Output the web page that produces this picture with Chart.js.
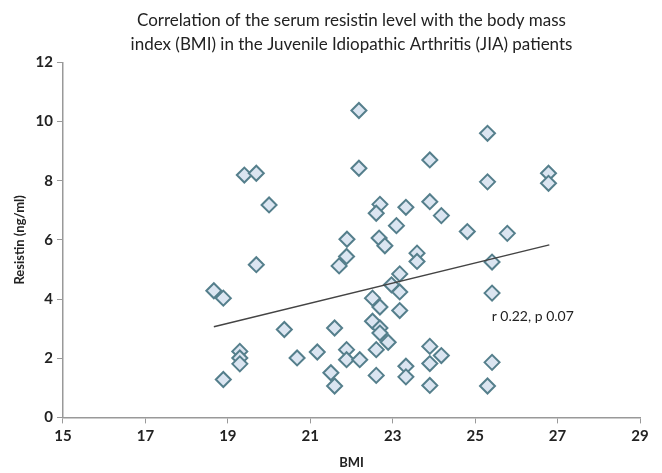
<!DOCTYPE html>
<html>
<head>
<meta charset="utf-8">
<script src="https://cdn.jsdelivr.net/npm/chart.js@4.4.0/dist/chart.umd.min.js"></script>
<style>
  body { margin: 0; background: #fff; }
  #wrap { width: 662px; height: 473px; }
</style>
</head>
<body>
<div id="wrap"><canvas id="chart-bmi-resistin"></canvas></div>
<script>
// values
var bmi = [18.66, 18.89, 18.89, 19.29, 19.29, 19.29, 19.40, 19.69, 19.69, 20.0,
           20.37, 20.68, 21.17, 21.59, 21.50, 21.59, 21.70, 21.88, 21.89, 21.88,
           21.88, 22.2, 22.18, 22.18, 22.69, 22.60, 22.67, 22.81, 23.09, 23.32,
           23.90, 23.90, 24.18, 24.81, 25.30, 25.30, 25.78, 26.78, 26.78, 23.59,
           23.59, 25.41, 23.17, 22.97, 23.17, 22.51, 22.69, 23.17, 25.41, 22.51,
           22.69, 22.69, 22.89, 22.60, 23.90, 24.18, 23.90, 23.32, 23.32, 25.41,
           22.60, 23.90, 25.30];
var resistin = [4.28, 4.03, 1.28, 2.23, 2.01, 1.81, 8.19, 8.25, 5.16, 7.18,
                2.97, 2.01, 2.21, 3.02, 1.51, 1.06, 5.12, 5.44, 6.02, 2.29,
                1.95, 1.95, 10.37, 8.42, 7.20, 6.90, 6.06, 5.80, 6.48, 7.10,
                7.29, 8.70, 6.82, 6.28, 9.60, 7.96, 6.22, 8.25, 7.91, 5.55,
                5.27, 5.25, 4.85, 4.48, 4.24, 4.03, 3.73, 3.61, 4.20, 3.25,
                3.02, 2.85, 2.54, 2.29, 2.40, 2.09, 1.82, 1.73, 1.37, 1.86,
                1.42, 1.08, 1.06];
var trendX = [18.66, 26.8];
var trendY = [3.06, 5.83];
var statsText = 'r 0.22, p 0.07';
var statsAt = [25.4, 3.4];

var points = bmi.map((x, i) => ({ x: x, y: resistin[i] }));
var trend = trendX.map((x, i) => ({ x: x, y: trendY[i] }));

var font = "'Lato', 'Open Sans', sans-serif";

var statsLabel = {
    id: 'statsLabel',
    afterDatasetsDraw(chart) {
        var ctx = chart.ctx;
        var px = chart.scales.x.getPixelForValue(statsAt[0]);
        var py = chart.scales.y.getPixelForValue(statsAt[1]);
        ctx.save();
        ctx.font = '14px ' + font;
        ctx.fillStyle = '#222';
        ctx.textBaseline = 'middle';
        ctx.fillText(statsText, px, py);
        ctx.restore();
    }
};

new Chart(document.getElementById('chart-bmi-resistin').getContext('2d'), {
    type: 'scatter',
    data: {
        datasets: [{
            type: 'line',
            data: trend,
            borderColor: '#444',
            borderWidth: 1.5,
            pointRadius: 0,
            fill: false
        }, {
            data: points,
            pointStyle: 'rectRot',
            pointRadius: 7.5,
            backgroundColor: '#dbe5f1',
            borderColor: '#557f8c',
            borderWidth: 2
        }]
    },
    options: {
        responsive: true,
        maintainAspectRatio: false,
        animation: false,
        layout: { padding: { left: 8, right: 22, top: 8, bottom: 2 } },
        plugins: {
            legend: { display: false },
            tooltip: { enabled: false },
            title: {
                display: true,
                fullSize: false,
                text: ['Correlation of the serum resistin level with the body mass',
                       'index (BMI) in the Juvenile Idiopathic Arthritis (JIA) patients'],
                font: { family: font, size: 17, weight: 'normal', lineHeight: 1.45 },
                color: '#222',
                padding: { top: 0, bottom: 5 }
            }
        },
        scales: {
            x: {
                type: 'linear',
                min: 15,
                max: 29,
                ticks: {
                    stepSize: 2,
                    font: { family: font, size: 15, weight: 'bold' },
                    color: '#222',
                    padding: 4
                },
                grid: { drawOnChartArea: false, drawTicks: true, tickLength: 6, color: '#999' },
                border: { color: '#999', width: 1.5 },
                title: {
                    display: true,
                    text: 'BMI',
                    font: { family: font, size: 13, weight: 'bold' },
                    color: '#222',
                    padding: { top: 6, bottom: 0 }
                }
            },
            y: {
                min: 0,
                max: 12,
                ticks: {
                    stepSize: 2,
                    font: { family: font, size: 15, weight: 'bold' },
                    color: '#222',
                    padding: 4
                },
                grid: { drawOnChartArea: false, drawTicks: true, tickLength: 6, color: '#999' },
                border: { color: '#999', width: 1.5 },
                title: {
                    display: true,
                    text: 'Resistin (ng/ml)',
                    font: { family: font, size: 13, weight: 'bold' },
                    color: '#222',
                    padding: { bottom: 4 }
                }
            }
        }
    },
    plugins: [statsLabel]
});
</script>
</body>
</html>
